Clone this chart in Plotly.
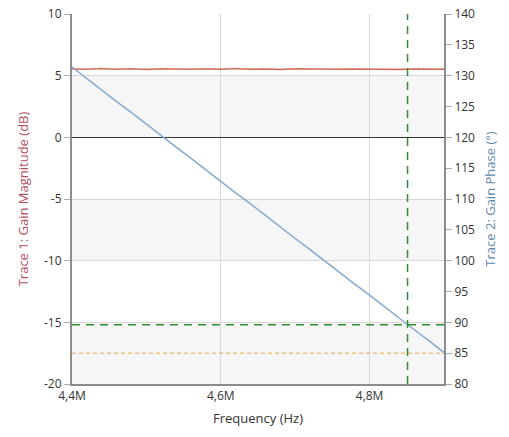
import plotly.graph_objects as go

# ---- data ----
freq_hz = [4.40e6, 4.42e6, 4.44e6, 4.46e6, 4.48e6, 4.50e6, 4.52e6, 4.54e6, 4.56e6, 4.58e6,
           4.60e6, 4.62e6, 4.64e6, 4.66e6, 4.68e6, 4.70e6, 4.72e6, 4.74e6, 4.76e6, 4.78e6,
           4.80e6, 4.82e6, 4.84e6, 4.86e6, 4.88e6, 4.90e6]
gain_mag_db = [5.55, 5.52, 5.58, 5.53, 5.56, 5.51, 5.57, 5.54, 5.52, 5.56,
               5.53, 5.58, 5.52, 5.55, 5.51, 5.56, 5.54, 5.57, 5.52, 5.55,
               5.53, 5.56, 5.51, 5.55, 5.54, 5.53]
gain_phase_deg = [131.4, 129.5, 127.7, 125.8, 124.0, 122.1, 120.3, 118.4, 116.6, 114.7,
                  112.9, 111.0, 109.2, 107.3, 105.5, 103.6, 101.8, 99.9, 98.1, 96.2,
                  94.4, 92.5, 90.7, 88.8, 87.0, 85.1]
marker_freq = 4.851e6
marker_phase = 89.6
min_phase = 85.0
max_mag = 5.55

x_tickvals = [4.4e6, 4.6e6, 4.8e6]
x_ticktext = ["4,4M", "4,6M", "4,8M"]
y_tickvals = [10, 5, 0, -5, -10, -15, -20]
y_ticktext = ["10", "5", "0", "-5", "-10", "-15", "-20"]
band_ranges = [(0, 5), (-10, -5), (-20, -15)]

FONT = "Open Sans"
AX = "#8c8c8c"

fig = go.Figure()

fig.add_trace(go.Scatter(x=freq_hz, y=gain_mag_db, mode="lines",
                         line=dict(color="#cc6070", width=1.5), yaxis="y",
                         showlegend=False, hoverinfo="skip"))
fig.add_trace(go.Scatter(x=[freq_hz[0], freq_hz[-1]], y=[max_mag, max_mag], mode="lines",
                         line=dict(color="#e8a040", width=1, dash="dot"), yaxis="y",
                         showlegend=False, hoverinfo="skip"))
fig.add_trace(go.Scatter(x=freq_hz, y=gain_phase_deg, mode="lines",
                         line=dict(color="#86a9cb", width=1.5), yaxis="y2",
                         showlegend=False, hoverinfo="skip"))

for lo, hi in band_ranges:
    fig.add_shape(type="rect", xref="paper", x0=0, x1=1, yref="y", y0=lo, y1=hi,
                  fillcolor="#f6f6f6", line_width=0, layer="below")

# marker lines (as traces on the library's axes)
fig.add_trace(go.Scatter(x=[freq_hz[0], freq_hz[-1]], y=[min_phase, min_phase], mode="lines",
                         line=dict(color="#eaa24a", width=1, dash="4px,3px"), yaxis="y2",
                         showlegend=False, hoverinfo="skip"))
fig.add_trace(go.Scatter(x=[freq_hz[0], freq_hz[-1]], y=[marker_phase, marker_phase], mode="lines",
                         line=dict(color="#2f8f2f", width=1.5, dash="8px,6px"), yaxis="y2",
                         showlegend=False, hoverinfo="skip"))
fig.add_trace(go.Scatter(x=[marker_freq, marker_freq], y=[80, 140], mode="lines",
                         line=dict(color="#2f8f2f", width=1.5, dash="8px,6px"), yaxis="y2",
                         showlegend=False, hoverinfo="skip"))

fig.update_layout(
    width=509, height=437,
    margin=dict(l=72, r=65, t=14, b=53, autoexpand=False),
    paper_bgcolor="white", plot_bgcolor="white",
    font=dict(family=FONT, size=11, color="#333333"),
    xaxis=dict(range=[4.4e6, 4.9e6], tickvals=x_tickvals, ticktext=x_ticktext,
               showgrid=True, gridcolor="#d8d8d8", gridwidth=1,
               showline=True, linecolor=AX, linewidth=2, automargin=False,
               ticks="", zeroline=False,
               title=dict(text="Frequency (Hz)", font=dict(size=13, color="#333333"), standoff=10),
               tickfont=dict(size=12)),
    yaxis=dict(range=[-20, 10], tickvals=y_tickvals, ticktext=y_ticktext,
               showgrid=True, gridcolor="#d8d8d8", gridwidth=1,
               zeroline=True, zerolinecolor="#333333", zerolinewidth=1.2,
               showline=True, linecolor=AX, linewidth=2, automargin=False,
               ticks="outside", ticklen=6, tickcolor="#aaaaaa",
               title=dict(text="Trace 1: Gain Magnitude (dB)", font=dict(size=13, color="#b5505f"), standoff=12),
               tickfont=dict(size=12)),
    yaxis2=dict(range=[80, 140], dtick=5, overlaying="y", side="right",
                showgrid=False, zeroline=False, automargin=False,
                showline=True, linecolor=AX, linewidth=2,
                ticks="outside", ticklen=6, tickcolor="#aaaaaa",
                title=dict(text="Trace 2: Gain Phase (°)", font=dict(size=13, color="#5f88ab"), standoff=12),
                tickfont=dict(size=12)),
)

fig.write_html("out.html")
